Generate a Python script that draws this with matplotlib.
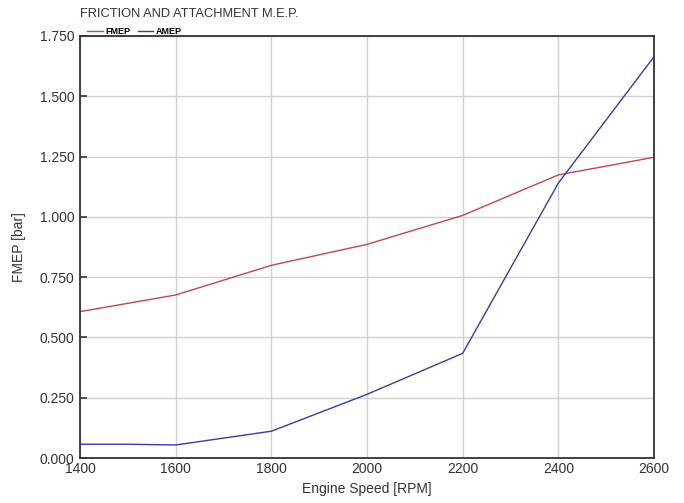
import matplotlib.pyplot as plt

plt.rcParams['font.family'] = ['Liberation Sans', 'DejaVu Sans']

# data
rpm_fmep = [1400, 1600, 1800, 2000, 2200, 2400, 2600]
fmep = [0.607, 0.676, 0.799, 0.886, 1.006, 1.174, 1.247]

rpm_amep = [1400, 1500, 1600, 1800, 2000, 2200, 2400, 2600]
amep = [0.057, 0.057, 0.054, 0.111, 0.264, 0.434, 1.140, 1.664]

x_ticks = [1400, 1600, 1800, 2000, 2200, 2400, 2600]
y_ticks = [0.0, 0.25, 0.5, 0.75, 1.0, 1.25, 1.5, 1.75]

fig = plt.figure(figsize=(6.84, 5.03), dpi=100)
ax = fig.add_axes([80 / 684, 1 - 458 / 503, 574 / 684, 422 / 503])

ax.plot(rpm_fmep, fmep, color='#c04848', lw=1.0, label='FMEP')
ax.plot(rpm_amep, amep, color='#3a3aa6', lw=1.0, label='AMEP')

ax.set_xlim(1400, 2600)
ax.set_ylim(0, 1.75)
ax.set_xticks(x_ticks)
ax.set_yticks(y_ticks)
ax.set_yticklabels([f'{v:.3f}' for v in y_ticks])
ax.grid(True, color='#d0d0d0', lw=1.0)
ax.set_axisbelow(True)
ax.tick_params(axis='y', direction='in', length=5, width=1.2, color='#333333',
               labelsize=10, labelcolor='#333333', pad=4)
ax.tick_params(axis='x', direction='in', length=0, labelsize=10,
               labelcolor='#333333', pad=3)
for s in ax.spines.values():
    s.set_color('#333333')
    s.set_linewidth(1.3)

ax.set_xlabel('Engine Speed [RPM]', fontsize=10, color='#333333', labelpad=4)
ax.set_ylabel('FMEP [bar]', fontsize=10, color='#333333', labelpad=10)

fig.text(80 / 684, 1 - 14 / 503, 'FRICTION AND ATTACHMENT M.E.P.', fontsize=9.3,
         color='#333333', va='center', ha='left')

ax.legend(loc='lower left', bbox_to_anchor=(0.013, 1.0), ncol=2, frameon=False,
          prop={'size': 6.5, 'weight': 'bold'}, handlelength=1.7,
          handletextpad=0.3, columnspacing=0.8, borderaxespad=0, borderpad=0)

fig.savefig('out.png', dpi=100)
